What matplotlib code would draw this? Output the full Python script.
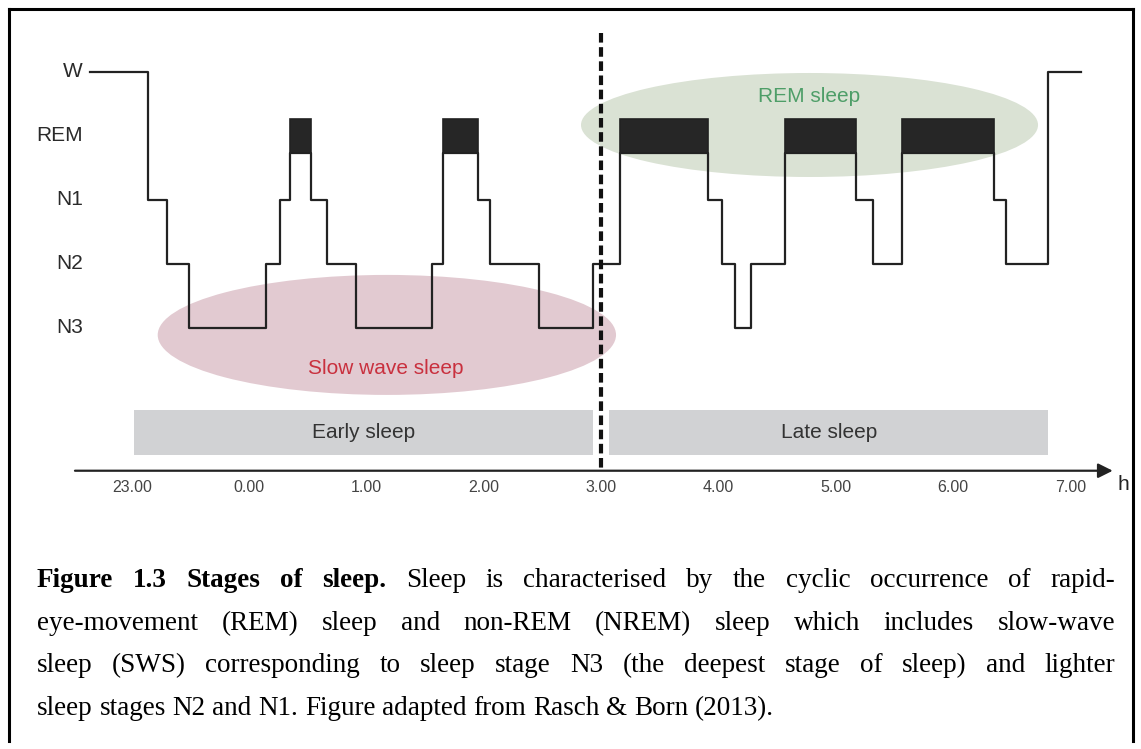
import matplotlib

matplotlib.use("Agg")
import matplotlib.pyplot as plt
from matplotlib.patches import Ellipse
from matplotlib.lines import Line2D

# ---- data -----------------------------------------------------------------
# time in hours after 23.00 (0 = 23.00, 1 = 0.00, ... 8 = 7.00)
stage_times = [-0.36, 0.14, 0.30, 0.49, 1.14, 1.26, 1.35, 1.53, 1.66, 1.91,
               2.56, 2.65, 2.95, 3.05, 3.47, 3.93, 4.16, 4.91, 5.03, 5.14,
               5.28, 5.57, 6.17, 6.32, 6.56, 7.35, 7.45, 7.81, 8.09]
stages = ["W", "N1", "N2", "N3", "N2", "N1", "REM", "N1", "N2", "N3",
          "N2", "REM", "N1", "N2", "N3", "N2", "REM", "N1", "N2", "N3",
          "N2", "REM", "N1", "N2", "REM", "N1", "N2", "W"]
stage_names = ["N3", "N2", "N1", "REM", "W"]
tick_labels = ["23.00", "0.00", "1.00", "2.00", "3.00", "4.00", "5.00",
               "6.00", "7.00"]
periods = ["Early sleep", "Late sleep"]
period_spans = [(0.02, 3.93), (4.07, 7.81)]
split_hour = 4.0

caption = [
    [("Figure", "bold"), ("1.3", "bold"), ("Stages", "bold"), ("of", "bold"),
     ("sleep.", "bold")] + [(w, "normal") for w in
     "Sleep is characterised by the cyclic occurrence of rapid-".split()],
    [(w, "normal") for w in
     "eye-movement (REM) sleep and non-REM (NREM) sleep which includes slow-wave".split()],
    [(w, "normal") for w in
     "sleep (SWS) corresponding to sleep stage N3 (the deepest stage of sleep) and lighter".split()],
    [(w, "normal") for w in
     "sleep stages N2 and N1. Figure adapted from Rasch & Born (2013).".split()],
]

W_PX, H_PX = 1141, 749
INK = "#222222"
SANS = "Liberation Sans"
SERIF = "Liberation Serif"

level = {s: i for i, s in enumerate(stage_names)}
REM_LO, REM_HI = 2.74, 3.26

fig = plt.figure(figsize=(W_PX / 100, H_PX / 100), dpi=100)
ax = fig.add_axes([0, 0, 1, 1])
ax.set_xlim(-1.123, 8.601)
ax.set_ylim(-6.58, 5.123)
ax.axis("off")

# shaded ellipses
ax.add_patch(Ellipse((2.174, -0.11), 3.906, 1.875, facecolor="#e2cad1",
                     edgecolor="none", zorder=1))
ax.add_patch(Ellipse((5.776, 3.17), 3.895, 1.625, facecolor="#dae2d4",
                     edgecolor="none", zorder=1))
ax.text(2.167, -0.63, "Slow wave sleep", color="#c9303e", fontsize=15,
        family=SANS, ha="center", va="center", zorder=3)
ax.text(5.772, 3.62, "REM sleep", color="#4e9e68", fontsize=15,
        family=SANS, ha="center", va="center", zorder=3)

# hypnogram
ys = [REM_LO if s == "REM" else level[s] for s in stages]
ax.step(stage_times, ys + [ys[-1]], where="post", color=INK, lw=1.6,
        zorder=4)
for t0, t1, s in zip(stage_times[:-1], stage_times[1:], stages):
    if s == "REM":
        ax.bar(t0, REM_HI - REM_LO, width=t1 - t0, bottom=REM_LO,
               align="edge", color="#262626", edgecolor=INK, lw=1.2,
               zorder=5)

# stage labels
for s in stage_names:
    ax.text(-0.416, level[s], s, fontsize=15, family=SANS, color="#2a2a2a",
            ha="right", va="center")

# early / late periods
for name, (a, b) in zip(periods, period_spans):
    ax.bar(a, -0.70, width=b - a, bottom=-1.283, align="edge",
           color="#d1d2d4", edgecolor="none", zorder=2)
    ax.text((a + b) / 2, -1.634, name, fontsize=15, family=SANS,
            color="#333333", ha="center", va="center", zorder=3)

# time axis
ax.annotate("", xy=(8.36, -2.232), xytext=(-0.484, -2.232),
            arrowprops=dict(arrowstyle="-|>", color=INK, lw=1.6,
                            mutation_scale=22, shrinkA=0, shrinkB=0),
            zorder=4)
for i, lab in enumerate(tick_labels):
    ax.text(i, -2.49, lab, fontsize=11.5, family=SANS, color="#444444",
            ha="center", va="center")
ax.text(8.45, -2.44, "h", fontsize=15, family=SANS, color=INK,
        ha="center", va="center")

# split marker
ax.plot([split_hour, split_hour], [4.61, -2.232], color="#111111", lw=3.0,
        dashes=(2.3, 1.1), zorder=6)

# frame
fx = lambda px: px / W_PX
fy = lambda py: 1 - py / H_PX
for xs, yv in [([9, 9], [9, 741]), ([9, 1133], [9, 9]), ([1133, 1133], [9, 741])]:
    fig.add_artist(Line2D([fx(x) for x in xs], [fy(y) for y in yv],
                          color="black", lw=2.2))

# caption, justified between two margins
renderer = fig.canvas.get_renderer()
left, right = 37, 1115
baselines = [587, 630, 672, 715]
fs = 19.5
space = fs * 0.25 * 100 / 72
for li, (words, base) in enumerate(zip(caption, baselines)):
    texts = [fig.text(0, fy(base), w, fontsize=fs, family=SERIF, weight=wt,
                      va="baseline", ha="left", color="black")
             for w, wt in words]
    widths = [t.get_window_extent(renderer).width for t in texts]
    if li < len(caption) - 1:
        gap = (right - left - sum(widths)) / (len(widths) - 1)
    else:
        gap = space
    x = left
    for t, w in zip(texts, widths):
        t.set_x(fx(x))
        x += w + gap

fig.savefig("out.png", dpi=100, facecolor="white")
